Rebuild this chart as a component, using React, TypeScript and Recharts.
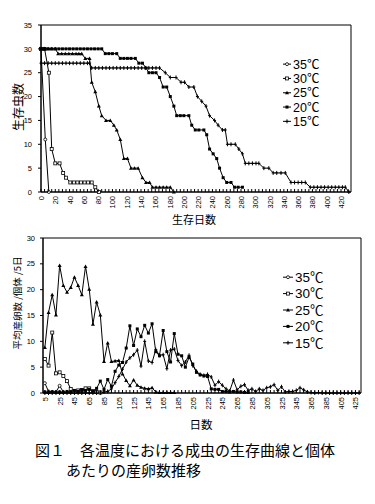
import { Legend, Line, LineChart, ReferenceArea, XAxis, YAxis } from 'recharts';

const CJK = '"Noto Sans CJK JP", sans-serif';
const NUM = '"Liberation Sans", Arial, sans-serif';

// ---- 生存曲線: day / surviving adults, one pair of arrays per temperature ----
const days35 = [0, 6, 11];
const n35 = [30, 11, 0];

const days30 = [0, 5, 11, 15, 20, 26, 31, 35, 41, 46, 51, 56, 61, 66, 71, 76, 81];
const n30 = [30, 30, 25, 9, 6, 6, 4, 3, 2, 2, 2, 2, 2, 2, 2, 1, 0];

const days25 = [0, 5, 10, 15, 20, 24, 29, 34, 39, 44, 49, 53, 57, 62, 68, 71, 76, 81, 85, 91, 97, 102, 106, 111, 116, 121, 126, 131, 136, 142, 147, 152, 156, 161, 166, 171, 176, 181, 186];
const n25 = [30, 30, 30, 30, 30, 29, 29, 29, 29, 29, 29, 29, 29, 28, 28, 23, 21, 18, 16, 15, 15, 14, 13, 11, 7, 7, 5, 5, 5, 3, 2, 2, 1, 1, 1, 1, 1, 1, 0];

const days20 = [0, 5, 10, 15, 20, 25, 30, 35, 40, 45, 50, 55, 60, 65, 70, 75, 80, 85, 90, 95, 100, 106, 111, 116, 121, 126, 132, 137, 142, 147, 151, 156, 161, 166, 171, 176, 181, 186, 190, 195, 200, 207, 211, 216, 221, 228, 232, 236, 241, 246, 250, 255, 260, 266, 271, 276, 282];
const n20 = [30, 30, 30, 30, 30, 30, 30, 30, 30, 30, 30, 30, 30, 30, 30, 30, 30, 30, 29, 29, 29, 29, 28, 28, 28, 28, 28, 27, 27, 26, 25, 25, 25, 24, 22, 22, 20, 18, 16, 16, 16, 16, 14, 13, 13, 13, 12, 9, 8, 7, 5, 3, 2, 2, 1, 1, 1];

const days15 = [0, 5, 10, 15, 20, 25, 30, 35, 40, 45, 50, 55, 60, 65, 68, 71, 76, 81, 86, 91, 96, 101, 106, 111, 116, 121, 126, 131, 136, 141, 146, 151, 156, 161, 166, 174, 181, 189, 196, 201, 207, 214, 219, 225, 231, 236, 243, 248, 254, 258, 261, 266, 272, 277, 282, 286, 291, 296, 301, 305, 312, 319, 325, 330, 336, 342, 350, 355, 360, 365, 370, 377, 382, 387, 392, 397, 402, 407, 412, 417, 422, 426, 431];
const n15 = [27, 27, 27, 27, 27, 27, 27, 27, 27, 27, 27, 27, 27, 27, 27, 26, 26, 26, 26, 26, 26, 26, 26, 26, 26, 26, 26, 26, 26, 26, 26, 26, 26, 26, 26, 25, 24, 24, 23, 23, 22, 22, 20, 19, 18, 16, 15, 14, 13, 13, 10, 10, 10, 9, 8, 6, 6, 6, 6, 6, 5, 5, 4, 4, 4, 4, 2, 2, 2, 2, 2, 1, 1, 1, 1, 1, 1, 1, 1, 1, 1, 1, 0];

const survTicks = [0, 5, 10, 15, 20, 25, 30, 35, 40, 45, 50, 55, 60, 65, 70, 75, 80, 85, 90, 95, 100, 105, 110, 115, 120, 125, 130, 135, 140, 145, 150, 155, 160, 165, 170, 175, 180, 185, 190, 195, 200, 205, 210, 215, 220, 225, 230, 235, 240, 245, 250, 255, 260, 265, 270, 275, 280, 285, 290, 295, 300, 305, 310, 315, 320, 325, 330, 335, 340, 345, 350, 355, 360, 365, 370, 375, 380, 385, 390, 395, 400, 405, 410, 415, 420, 425, 430];
const survLabels = [0, 20, 40, 60, 80, 100, 120, 140, 160, 180, 200, 220, 240, 260, 280, 300, 320, 340, 360, 380, 400, 420];
const survYTicks = [0, 5, 10, 15, 20, 25, 30, 35];

// ---- 産卵数: 5-day periods, mean eggs per female ----
const eggDays = [5, 10, 15, 20, 25, 30, 35, 40, 45, 50, 55, 60, 65, 70, 75, 80, 85, 90, 95, 100, 105, 110, 115, 120, 125, 130, 135, 140, 145, 150, 155, 160, 165, 170, 175, 180, 185, 190, 195, 200, 205, 210, 215, 220, 225, 230, 235, 240, 245, 250, 255, 260, 265, 270, 275, 280, 285, 290, 295, 300, 305, 310, 315, 320, 325, 330, 335, 340, 345, 350, 355, 360, 365, 370, 375, 380, 385, 390, 395, 400, 405, 410, 415, 420, 425, 430];
const eggLabels = [5, 25, 45, 65, 85, 105, 125, 145, 165, 185, 205, 225, 245, 265, 285, 305, 325, 345, 365, 385, 405, 425];
const eggYTicks = [0, 5, 10, 15, 20, 25, 30];

const egg35 = [1.9, 0.3, 0.2, 0.2, 1.4, 0.2];
const egg30 = [6.6, 5.3, 11.7, 3.8, 4.0, 3.3, 2.3, 0.8, 0.3, 0.5, 0.6, 0.9, 0.9, 0.3, 0.2, 0.1];
const egg25 = [8.8, 15.6, 19.0, 15.1, 24.7, 20.8, 19.5, 20.4, 22.4, 20.8, 19.0, 24.5, 20.1, 13.3, 17.6, 15.1, 6.1, 9.7, 6.1, 6.2, 6.3, 3.7, 2.4, 1.4, 2.5, 1.5, 1.1, 0.9, 0.8, 1.0, 0.2, 0.1, 0.1, 0.1, 0.1, 0.1];
const egg20 = [0.2, 0.1, 0.2, 0.1, 0.2, 0.1, 0.3, 0.2, 0.5, 0.3, 0.6, 0.5, 0.7, 0.4, 0.9, 2.3, 0.7, 2.6, 1.3, 4.2, 5.4, 5.9, 8.7, 13.0, 9.2, 12.4, 10.9, 13.1, 11.6, 13.4, 8.0, 7.2, 12.1, 8.0, 6.0, 11.5, 7.5, 7.2, 5.0, 6.9, 5.6, 4.0, 3.5, 3.3, 3.2, 0.8, 0.7, 0.7, 0.3, 0.3, 0.2, 0.3, 0.2, 0.2, 0.1, 0.1];
const egg15 = [0, 0, 0, 0, 0, 0, 0, 0, 0, 0, 0, 0, 0, 0, 0, 0, 0.2, 0.3, 0.8, 2.0, 3.2, 4.6, 6.0, 6.8, 7.4, 8.3, 5.2, 10.0, 6.2, 5.9, 8.4, 7.3, 7.4, 4.7, 8.3, 8.5, 6.3, 5.3, 6.0, 7.3, 5.3, 4.2, 3.6, 3.4, 3.6, 3.1, 1.5, 2.2, 1.5, 0.8, 0.4, 2.5, 0.6, 1.3, 1.6, 0.5, 0.8, 0.3, 0.8, 0.5, 1.0, 1.2, 1.6, 0.5, 1.2, 0.2, 0.3, 0.3, 0.5, 1.0, 0.6, 0.2, 0.1, 0, 0.1, 0, 0, 0, 0, 0, 0, 0, 0, 0, 0, 0];

type Shape = 'circle' | 'openSquare' | 'triangle' | 'square' | 'plus';

const seriesStyle: { name: string; key: string; shape: Shape }[] = [
  { name: '35℃', key: 't35', shape: 'circle' },
  { name: '30℃', key: 't30', shape: 'openSquare' },
  { name: '25℃', key: 't25', shape: 'triangle' },
  { name: '20℃', key: 't20', shape: 'square' },
  { name: '15℃', key: 't15', shape: 'plus' },
];

const toPoints = (days: number[], counts: number[]) => days.map((day, i) => ({ day, n: counts[i] }));
const survData: Record<string, { day: number; n: number }[]> = {
  t35: toPoints(days35, n35),
  t30: toPoints(days30, n30),
  t25: toPoints(days25, n25),
  t20: toPoints(days20, n20),
  t15: toPoints(days15, n15),
};

const eggRows = eggDays.map((day, i) => ({
  day,
  t35: egg35[i] ?? null,
  t30: egg30[i] ?? null,
  t25: egg25[i] ?? null,
  t20: egg20[i] ?? null,
  t15: egg15[i] ?? null,
}));

function Marker({ shape, x, y, s }: { shape: Shape; x: number; y: number; s: number }) {
  const h = s / 2;
  switch (shape) {
    case 'circle':
      return <circle cx={x} cy={y} r={h} fill="#fff" stroke="#000" strokeWidth={0.8} />;
    case 'openSquare':
      return <rect x={x - h} y={y - h} width={s} height={s} fill="#fff" stroke="#000" strokeWidth={0.8} />;
    case 'triangle':
      return <path d={`M${x},${y - h - 0.5}L${x + h + 0.5},${y + h}L${x - h - 0.5},${y + h}Z`} fill="#000" />;
    case 'square':
      return <rect x={x - h} y={y - h} width={s} height={s} fill="#000" />;
    default:
      return <path d={`M${x - h},${y}H${x + h}M${x},${y - h - 0.5}V${y + h + 0.5}`} stroke="#000" strokeWidth={1} />;
  }
}

const dotFor = (shape: Shape, s: number) => (props: any) => {
  const { cx, cy, index, value } = props;
  if (cx == null || cy == null || value == null) return <g key={index} />;
  return (
    <g key={index}>
      <Marker shape={shape} x={cx} y={cy} s={s} />
    </g>
  );
};

const xTick = (labels: number[]) => (props: any) => {
  const { x, y, payload } = props;
  const v = payload.value;
  return (
    <g>
      <line x1={x} x2={x} y1={y} y2={y - 3} stroke="#000" strokeWidth={1} />
      {labels.includes(v) && (
        <text
          transform={`translate(${x + 3},${y + 4}) rotate(-90)`}
          textAnchor="end"
          fontSize={7.5}
          fontFamily={NUM}
          fill="#000"
        >
          {v}
        </text>
      )}
    </g>
  );
};

function LegendBox({ rowH, lineW, fontSize }: { rowH: number; lineW: number; fontSize: number }) {
  return (
    <svg width={70} height={rowH * 5 + 2} style={{ display: 'block' }}>
      {seriesStyle.map((s, i) => {
        const y = rowH / 2 + i * rowH;
        return (
          <g key={s.name}>
            <line x1={2} x2={2 + lineW} y1={y} y2={y} stroke="#000" strokeWidth={1} />
            <Marker shape={s.shape} x={2 + lineW / 2} y={y} s={3} />
            <text x={4 + lineW} y={y} dy="0.36em" fontSize={fontSize} fontFamily={`${NUM}, ${CJK}`} fill="#000">
              {s.name}
            </text>
          </g>
        );
      })}
    </svg>
  );
}

function SurvivalChart() {
  return (
    <LineChart width={375} height={222} margin={{ top: 25, right: 24, bottom: 0, left: 10 }}>
      <XAxis
        type="number"
        dataKey="day"
        domain={[0, 434]}
        ticks={survTicks}
        interval={0}
        height={30}
        tickSize={0}
        tickMargin={0}
        tickLine={false}
        axisLine={{ stroke: '#000' }}
        tick={xTick(survLabels)}
      />
      <YAxis
        type="number"
        domain={[0, 35]}
        ticks={survYTicks}
        interval={0}
        width={31}
        tickSize={3}
        tickMargin={6}
        tick={{ fontSize: 7.5, fill: '#000', fontFamily: NUM }}
        axisLine={{ stroke: '#000' }}
        tickLine={{ stroke: '#000' }}
      />
      <ReferenceArea x1={0} x2={434} y1={0} y2={35} fill="none" stroke="#000" strokeWidth={1} />
      {seriesStyle.map((s) => (
        <Line
          key={s.key}
          data={survData[s.key]}
          dataKey="n"
          name={s.name}
          type="linear"
          stroke="#000"
          strokeWidth={1}
          dot={dotFor(s.shape, 3)}
          activeDot={false}
          isAnimationActive={false}
        />
      ))}
      <Legend
        layout="vertical"
        align="center"
        verticalAlign="middle"
        wrapperStyle={{ left: 281, top: 57, width: 70 }}
        content={() => <LegendBox rowH={14.3} lineW={8} fontSize={12.5} />}
      />
    </LineChart>
  );
}

function EggChart() {
  return (
    <LineChart width={375} height={200} data={eggRows} margin={{ top: 13, right: 14, bottom: 10, left: 10 }}>
      <XAxis
        type="number"
        dataKey="day"
        domain={[2.5, 432.5]}
        ticks={eggDays}
        interval={0}
        height={22}
        tickSize={0}
        tickMargin={0}
        tickLine={false}
        axisLine={{ stroke: '#000' }}
        tick={xTick(eggLabels)}
      />
      <YAxis
        type="number"
        domain={[0, 30]}
        ticks={eggYTicks}
        interval={0}
        width={33}
        tickSize={3}
        tickMargin={5}
        tick={{ fontSize: 7.5, fill: '#000', fontFamily: NUM }}
        axisLine={{ stroke: '#000' }}
        tickLine={{ stroke: '#000' }}
      />
      <ReferenceArea x1={2.5} x2={432.5} y1={0} y2={30} fill="none" stroke="#000" strokeWidth={1} />
      {seriesStyle.map((s) => (
        <Line
          key={s.key}
          dataKey={s.key}
          name={s.name}
          type="linear"
          stroke="#000"
          strokeWidth={1}
          dot={dotFor(s.shape, 3)}
          activeDot={false}
          connectNulls={false}
          isAnimationActive={false}
        />
      ))}
      <Legend
        layout="vertical"
        align="center"
        verticalAlign="middle"
        wrapperStyle={{ left: 281, top: 43.5, width: 70 }}
        content={() => <LegendBox rowH={16.4} lineW={10} fontSize={13.5} />}
      />
    </LineChart>
  );
}

const titleStyle = (x: number, y: number, size: number, rotate = false): React.CSSProperties => ({
  position: 'absolute',
  left: x,
  top: y,
  transform: `translate(-50%, -50%)${rotate ? ' rotate(-90deg)' : ''}`,
  whiteSpace: 'nowrap',
  fontSize: size,
  lineHeight: 1,
  fontFamily: CJK,
  color: '#000',
});

export default function App() {
  return (
    <div style={{ position: 'absolute', left: 0, top: 0, width: 375, height: 504, background: '#fff', overflow: 'hidden' }}>
      <div style={{ position: 'absolute', left: 0, top: 0 }}>
        <SurvivalChart />
      </div>
      <div style={{ position: 'absolute', left: 0, top: 225 }}>
        <EggChart />
      </div>
      <div style={titleStyle(17.5, 107, 12, true)}>生存虫数</div>
      <div style={titleStyle(194, 218.5, 11)}>生存日数</div>
      <div style={titleStyle(17.5, 302.5, 9.5, true)}>平均産卵数 /個体 /5日</div>
      <div style={titleStyle(201, 425, 11.5)}>日数</div>
      <div style={{ position: 'absolute', left: 35, top: 441.5, fontSize: 15, lineHeight: 1, fontFamily: CJK, whiteSpace: 'nowrap' }}>
        図１　各温度における成虫の生存曲線と個体
      </div>
      <div style={{ position: 'absolute', left: 66, top: 461.5, fontSize: 15, lineHeight: 1, fontFamily: CJK, whiteSpace: 'nowrap' }}>
        あたりの産卵数推移
      </div>
    </div>
  );
}
